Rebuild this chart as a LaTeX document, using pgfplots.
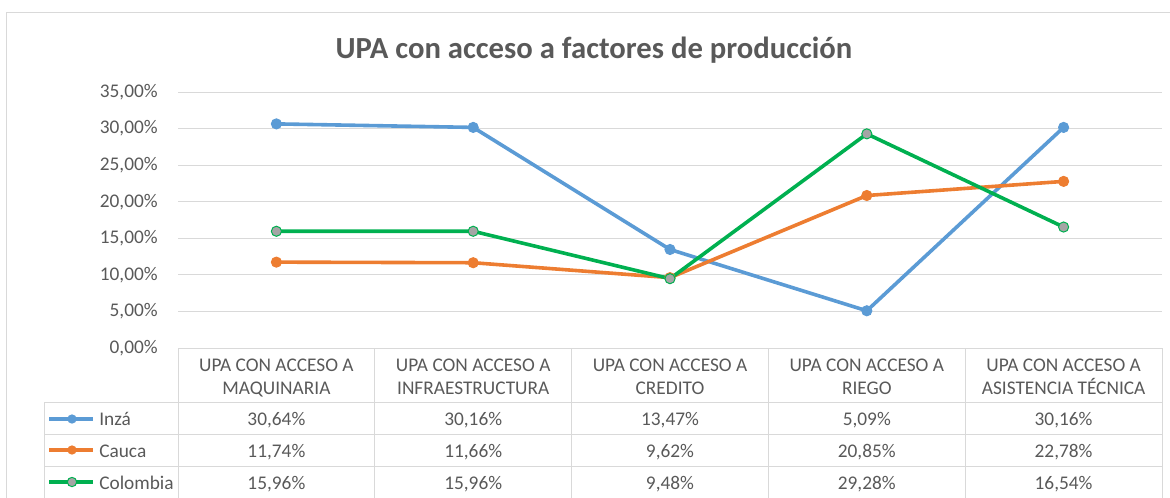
\documentclass[border=0pt]{standalone}
\usepackage{fontspec}
\setmainfont{Carlito}
\usepackage{pgfplots}
\pgfplotsset{compat=1.18}
\definecolor{inza}{HTML}{5B9BD5}
\definecolor{cauca}{HTML}{ED7D31}
\definecolor{colombia}{HTML}{00B050}
\definecolor{mk}{HTML}{A5A5A5}
\definecolor{txt}{HTML}{595959}
\definecolor{gridc}{HTML}{D9D9D9}
\newcommand\bodyfont{\fontsize{14.5}{17.25}\selectfont}
\tikzset{cell/.style={font=\bodyfont, text=txt, anchor=base, inner sep=0pt}}
\begin{document}
\begin{tikzpicture}[x=0.75pt,y=-0.75pt]
\useasboundingbox (0,0) rectangle (1170,497);
\draw[gridc, line width=0.75pt] (6,12) rectangle (1185,520);
\node[font=\fontsize{23}{27}\selectfont\bfseries, text=txt, anchor=base] at (594,58) {UPA con acceso a factores de producción};
\begin{axis}[
  at={(133.5pt,-261pt)}, anchor=south west,
  scale only axis, width=738pt, height=192pt,
  xmin=-0.5, xmax=4.5, ymin=0, ymax=35,
  xtick=\empty, ytick={0,5,...,35},
  ymajorgrids, grid style={gridc, line width=0.75pt},
  axis line style={draw=none}, major tick length=0pt,
  yticklabel style={font=\bodyfont, text=txt, anchor=east, inner sep=0pt, xshift=-15pt},
  yticklabel={\pgfmathprintnumber[fixed,fixed zerofill,precision=2,use comma,assume math mode=true]{\tick}\%},
  clip=false,
]
\addplot[inza, line width=2.7pt, mark=*, mark size=3.8pt, mark options={solid, line width=0.75pt}]
  coordinates {(0,30.64)(1,30.16)(2,13.47)(3,5.09)(4,30.16)};
\addplot[cauca, line width=2.7pt, mark=*, mark size=3.8pt, mark options={solid, line width=0.75pt}]
  coordinates {(0,11.74)(1,11.66)(2,9.62)(3,20.85)(4,22.78)};
\addplot[colombia, line width=2.7pt, mark=*, mark size=3.8pt, mark options={solid, line width=0.75pt, fill=mk, draw=colombia}]
  coordinates {(0,15.96)(1,15.96)(2,9.48)(3,29.28)(4,16.54)};
\end{axis}
% data table
\draw[gridc, line width=0.75pt] (178,348) -- (1162,348);
\foreach \xx in {178,374.8,571.6,768.4,965.2,1162} \draw[gridc, line width=0.75pt] (\xx,348) -- (\xx,498);
\foreach \yy in {402,434,466,498} \draw[gridc, line width=0.75pt] (44,\yy) -- (1162,\yy);
\draw[gridc, line width=0.75pt] (44,402) -- (44,498);
\foreach \cx/\second in {276.4/MAQUINARIA, 473.2/INFRAESTRUCTURA, 670/CREDITO, 866.8/RIEGO, 1063.6/ASISTENCIA TÉCNICA} {
  \node[cell] at (\cx,371) {UPA CON ACCESO A};
  \node[cell] at (\cx,394) {\second};
}
% Inzá row
\node[cell] at (276.4,425) {30,64\%};
\node[cell] at (473.2,425) {30,16\%};
\node[cell] at (670,425) {13,47\%};
\node[cell] at (866.8,425) {5,09\%};
\node[cell] at (1063.6,425) {30,16\%};
% Cauca row
\node[cell] at (276.4,457) {11,74\%};
\node[cell] at (473.2,457) {11,66\%};
\node[cell] at (670,457) {9,62\%};
\node[cell] at (866.8,457) {20,85\%};
\node[cell] at (1063.6,457) {22,78\%};
% Colombia row
\node[cell] at (276.4,489) {15,96\%};
\node[cell] at (473.2,489) {15,96\%};
\node[cell] at (670,489) {9,48\%};
\node[cell] at (866.8,489) {29,28\%};
\node[cell] at (1063.6,489) {16,54\%};
% legend keys
\draw[inza, line width=2.7pt] (49,419) -- (93,419);
\fill[inza] (72,419) circle (3.5pt);
\draw[cauca, line width=2.7pt] (49,450) -- (93,450);
\fill[cauca] (72,450) circle (3.5pt);
\draw[colombia, line width=2.7pt] (49,482) -- (93,482);
\filldraw[fill=mk, draw=colombia, line width=0.75pt] (72,482) circle (3.5pt);
\node[cell, anchor=base west] at (99,425) {Inzá};
\node[cell, anchor=base west] at (99,457) {Cauca};
\node[cell, anchor=base west] at (99,489) {Colombia};
\end{tikzpicture}
\end{document}
